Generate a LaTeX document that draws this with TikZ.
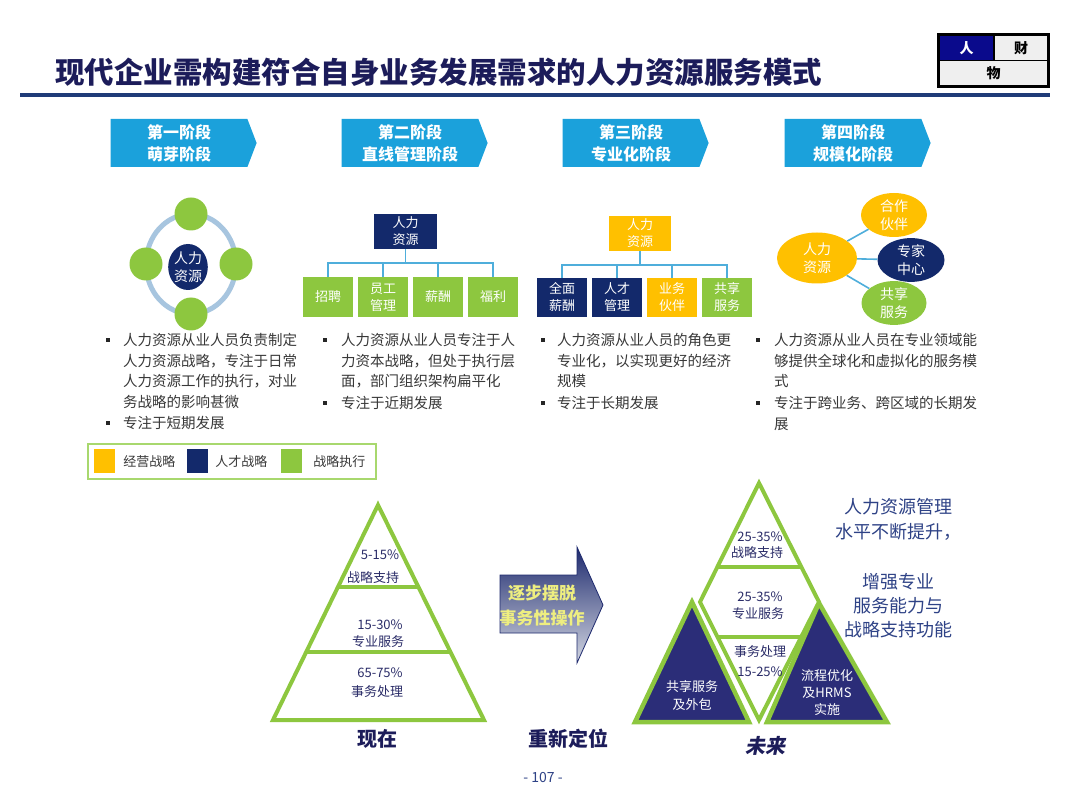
\documentclass[tikz,border=0pt]{standalone}
\usepackage{fontspec}
\setmainfont{Noto Sans CJK SC}
\newfontfamily\cjkslant{Noto Sans CJK SC}[FakeSlant=0.2]
\usetikzlibrary{shapes.symbols,shapes.geometric,calc,positioning}

\definecolor{stagecyan}{HTML}{1BA1DB}
\definecolor{hrnavy}{HTML}{13296B}
\definecolor{hrgold}{HTML}{FFC000}
\definecolor{hrgreen}{HTML}{8DC73F}
\definecolor{linkblue}{HTML}{4FAEDB}
\definecolor{ringblue}{HTML}{A7C5DF}
\definecolor{trinavy}{HTML}{2B2D78}
\definecolor{titlenavy}{HTML}{1C1C5A}
\definecolor{rulenavy}{HTML}{1F3B78}
\definecolor{cellblue}{HTML}{0A0A8C}
\definecolor{cellgray}{HTML}{EFEFEF}
\definecolor{bodygray}{HTML}{383838}
\definecolor{pyrtext}{HTML}{2A2C68}
\definecolor{notetext}{HTML}{2E4286}
\definecolor{arrowtext}{HTML}{EEEE80}
\definecolor{arrowdark}{HTML}{1E2A6E}
\definecolor{arrowlight}{HTML}{D3D7E2}
\definecolor{legline}{HTML}{A8D86E}

\newcommand{\fsz}[2]{\fontsize{#1}{#2}\selectfont}

\tikzset{
  stagebox/.style={signal, signal to=east, signal pointer angle=138, fill=stagecyan,
    text=white, minimum width=146pt, minimum height=48pt, inner sep=0pt,
    align=center, font=\fsz{16}{22}\bfseries},
  cell/.style={minimum height=24pt, inner sep=0pt, font=\fsz{14}{16}\bfseries},
  bud/.style={circle, fill=hrgreen, minimum size=33pt, inner sep=0pt},
  unit/.style={inner sep=0pt, text=white, align=center, font=\fsz{13}{17}},
  navybox/.style={unit, fill=hrnavy, minimum width=63pt, minimum height=35pt},
  goldbox/.style={unit, fill=hrgold, minimum width=62pt, minimum height=35pt},
  leaf/.style={unit, minimum width=50pt, minimum height=40pt},
  oval/.style={unit, ellipse, font=\fsz{14}{18}},
  link/.style={linkblue, line width=1.6pt},
  para/.style={anchor=north west, align=left, inner sep=0pt, text=bodygray,
    font=\fsz{14.5}{20.6}},
  bulsq/.style={fill=black!85, minimum size=4pt, inner sep=0pt},
  legsq/.style={minimum width=21pt, minimum height=24pt, inner sep=0pt},
  legtxt/.style={inner sep=0pt, text=bodygray, font=\fsz{13}{15}},
  pyrline/.style={hrgreen, line width=4pt, line join=miter},
  pyrtxt/.style={inner sep=0pt, text=pyrtext, align=center, font=\fsz{13}{17}},
  tribox/.style={fill=trinavy, draw=hrgreen, line width=4.5pt, line join=miter},
  caption/.style={inner sep=0pt, text=titlenavy, font=\fsz{20}{22}\bfseries},
  note/.style={inner sep=0pt, text=notetext, align=center},
}

\begin{document}
\begin{tikzpicture}[x=1pt, y=-1pt]
\useasboundingbox (0,0) rectangle (1080,810);
\fill[white] (0,0) rectangle (1080,810);

% title and header box
\node[anchor=west, inner sep=0pt, text=titlenavy, font=\fsz{29.5}{32}\bfseries] (title) at (55,72)
  {现代企业需构建符合自身业务发展需求的人力资源服务模式};
\draw[rulenavy, line width=3.5pt] (20,95) -- (1050,95);
\fill[black] (937,33) rectangle (1050,88);
\node[cell, fill=cellblue, text=white, minimum width=53pt] (ren) at (966.5,48) {人};
\node[cell, fill=cellgray, minimum width=52pt] (cai) at (1021,48) {财};
\node[cell, fill=cellgray, minimum width=107pt] (wu) at (993.5,73.5) {物};

% stages
\node[stagebox] (s1) at (179,143) {第一阶段\\萌芽阶段};
\node[stagebox] (s2) at (410,143) {第二阶段\\直线管理阶段};
\node[stagebox] (s3) at (631,143) {第三阶段\\专业化阶段};
\node[stagebox] (s4) at (853,143) {第四阶段\\规模化阶段};

% stage 1: ring
\draw[ringblue, line width=5pt] (191,264) ellipse [x radius=45, y radius=50];
\foreach \a/\n in {0/e,90/n,180/w,270/s}
  \node[bud] (bud\n) at ($(191,264)+(\a:45 and 50)$) {};
\node[oval, fill=hrnavy, minimum width=36pt, minimum height=46pt] (hr1) at (188,267) {人力\\资源};

% stage 2: line management
\node[navybox] (hr2) at (405.5,231.5) {人力\\资源};
\foreach \i/\t in {1/招聘, 2/{员工\\管理}, 3/薪酬, 4/福利} {
  \node[leaf, fill=hrgreen] (g\i) at (273+55*\i,297) {\t};
  \draw[link] (hr2.south) -- ++(0,14) -| (g\i.north);
}

% stage 3: specialisation
\node[goldbox] (hr3) at (640,233.5) {人力\\资源};
\foreach \i/\t/\c in {1/{全面\\薪酬}/hrnavy, 2/{人才\\管理}/hrnavy, 3/{业务\\伙伴}/hrgold, 4/{共享\\服务}/hrgreen} {
  \node[leaf, fill=\c, minimum height=39pt] (t\i) at (507+55*\i,297.5) {\t};
  \draw[link] (hr3.south) -- ++(0,14) -| (t\i.north);
}

% stage 4: scale
\node[oval, fill=hrgold, minimum width=80pt, minimum height=51pt] (hr4) at (817,258) {人力\\资源};
\node[oval, fill=hrgold, minimum width=66pt, minimum height=44pt] (p1) at (894,215) {合作\\伙伴};
\node[oval, fill=hrnavy, minimum width=67pt, minimum height=40pt] (p2) at (911,260) {专家\\中心};
\node[oval, fill=hrgreen, minimum width=65pt, minimum height=40pt] (p3) at (894,303) {共享\\服务};
\foreach \p in {p1,p2,p3}
  \draw[link] (hr4) -- (\p);

% descriptions
\node[bulsq] (b11) at (108,340) {};
\node[para] (d11) at (123,333) {人力资源从业人员负责制定\\人力资源战略，专注于日常\\人力资源工作的执行，对业\\务战略的影响甚微};
\node[bulsq] (b12) at (108,423) {};
\node[para] (d12) at (123,416) {专注于短期发展};
\node[bulsq] (b21) at (325,340) {};
\node[para] (d21) at (341,333) {人力资源从业人员专注于人\\力资本战略，但处于执行层\\面，部门组织架构扁平化};
\node[bulsq] (b22) at (325,403) {};
\node[para] (d22) at (341,396) {专注于近期发展};
\node[bulsq] (b31) at (543,340) {};
\node[para] (d31) at (557,333) {人力资源从业人员的角色更\\专业化，以实现更好的经济\\规模};
\node[bulsq] (b32) at (543,403) {};
\node[para] (d32) at (557,396) {专注于长期发展};
\node[bulsq] (b41) at (758,340) {};
\node[para] (d41) at (774,333) {人力资源从业人员在专业领域能\\够提供全球化和虚拟化的服务模\\式};
\node[bulsq] (b42) at (758,403) {};
\node[para] (d42) at (774,396) {专注于跨业务、跨区域的长期发\\展};

% legend
\node[draw=legline, line width=1.5pt, minimum width=288pt, minimum height=35pt] (legend) at (232,461.5) {};
\node[legsq, fill=hrgold] (lg1) at (104.5,461.5) {};
\node[legtxt, right=8pt of lg1] (lt1) {经营战略};
\node[legsq, fill=hrnavy] (lg2) at (197.5,461.5) {};
\node[legtxt, right=7pt of lg2] (lt2) {人才战略};
\node[legsq, fill=hrgreen] (lg3) at (291.5,461.5) {};
\node[legtxt, right=11pt of lg3] (lt3) {战略执行};

% present pyramid
\coordinate (lT) at (378,505);
\coordinate (lL) at (273,720);
\coordinate (lR) at (484,720);
\draw[pyrline] (lT) -- (lL) -- (lR) -- cycle;
\draw[pyrline] ($(lT)!0.381!(lL)$) -- ($(lT)!0.381!(lR)$);
\draw[pyrline] ($(lT)!0.684!(lL)$) -- ($(lT)!0.684!(lR)$);
\node[pyrtxt] (n1) at (380,555) {5-15\%};
\node[pyrtxt] (n2) at (373,578) {战略支持};
\node[pyrtxt] (n3) at (380,625) {15-30\%};
\node[pyrtxt] (n4) at (378,642) {专业服务};
\node[pyrtxt] (n5) at (380,673) {65-75\%};
\node[pyrtxt] (n6) at (377,692) {事务处理};
\node[caption] (now) at (377,739) {现在};

% shift arrow
\shade[draw=arrowdark, line width=0.8pt, top color=arrowdark, bottom color=arrowlight]
  (500,575) -- (577,575) -- (577,547) -- (603,605) -- (577,663) -- (577,633) -- (500,633) -- cycle;
\node[inner sep=0pt, text=arrowtext, align=center, font=\fsz{17}{25}\bfseries] (shiftlbl) at (542,605.5) {逐步摆脱\\事务性操作};
\node[caption] (repos) at (568,739) {重新定位};

% future pyramid
\coordinate (dT) at (759,483);
\coordinate (dL) at (700,602);
\coordinate (dB) at (759,720);
\coordinate (dR) at (819,602);
\draw[tribox] (692,602) -- (635,722) -- (749,722) -- cycle;
\draw[tribox] (819,603) -- (767,722) -- (887,722) -- cycle;
\draw[pyrline] (dT) -- (dR) -- (dB) -- (dL) -- cycle;
\draw[pyrline] ($(dT)!0.706!(dL)$) -- ($(dT)!0.706!(dR)$);
\draw[pyrline] ($(dL)!0.297!(dB)$) -- ($(dR)!0.297!(dB)$);
\node[pyrtxt] (f1) at (760,537) {25-35\%};
\node[pyrtxt] (f2) at (757,553) {战略支持};
\node[pyrtxt] (f3) at (760,597) {25-35\%};
\node[pyrtxt] (f4) at (758,614) {专业服务};
\node[pyrtxt] (f5) at (760,652) {事务处理};
\node[pyrtxt] (f6) at (760,672) {15-25\%};
\node[pyrtxt, text=white, font=\fsz{13}{18}] (sso) at (692,696) {共享服务\\及外包};
\node[pyrtxt, text=white, font=\fsz{13}{17}] (hrms) at (827,692.5) {流程优化\\及HRMS\\实施};
\node[caption, font=\fsz{20}{22}\cjkslant\bfseries] (future) at (765,746) {未来};

% notes
\node[note, font=\fsz{18}{25}] (note1) at (898,519.5) {人力资源管理\\水平不断提升，};
\node[note, font=\fsz{18}{24}] (note2) at (898,606) {增强专业\\服务能力与\\战略支持功能};

\node[inner sep=0pt, text=notetext, font=\fsz{14}{16}] (page) at (543,778) {- 107 -};
\end{tikzpicture}
\end{document}
